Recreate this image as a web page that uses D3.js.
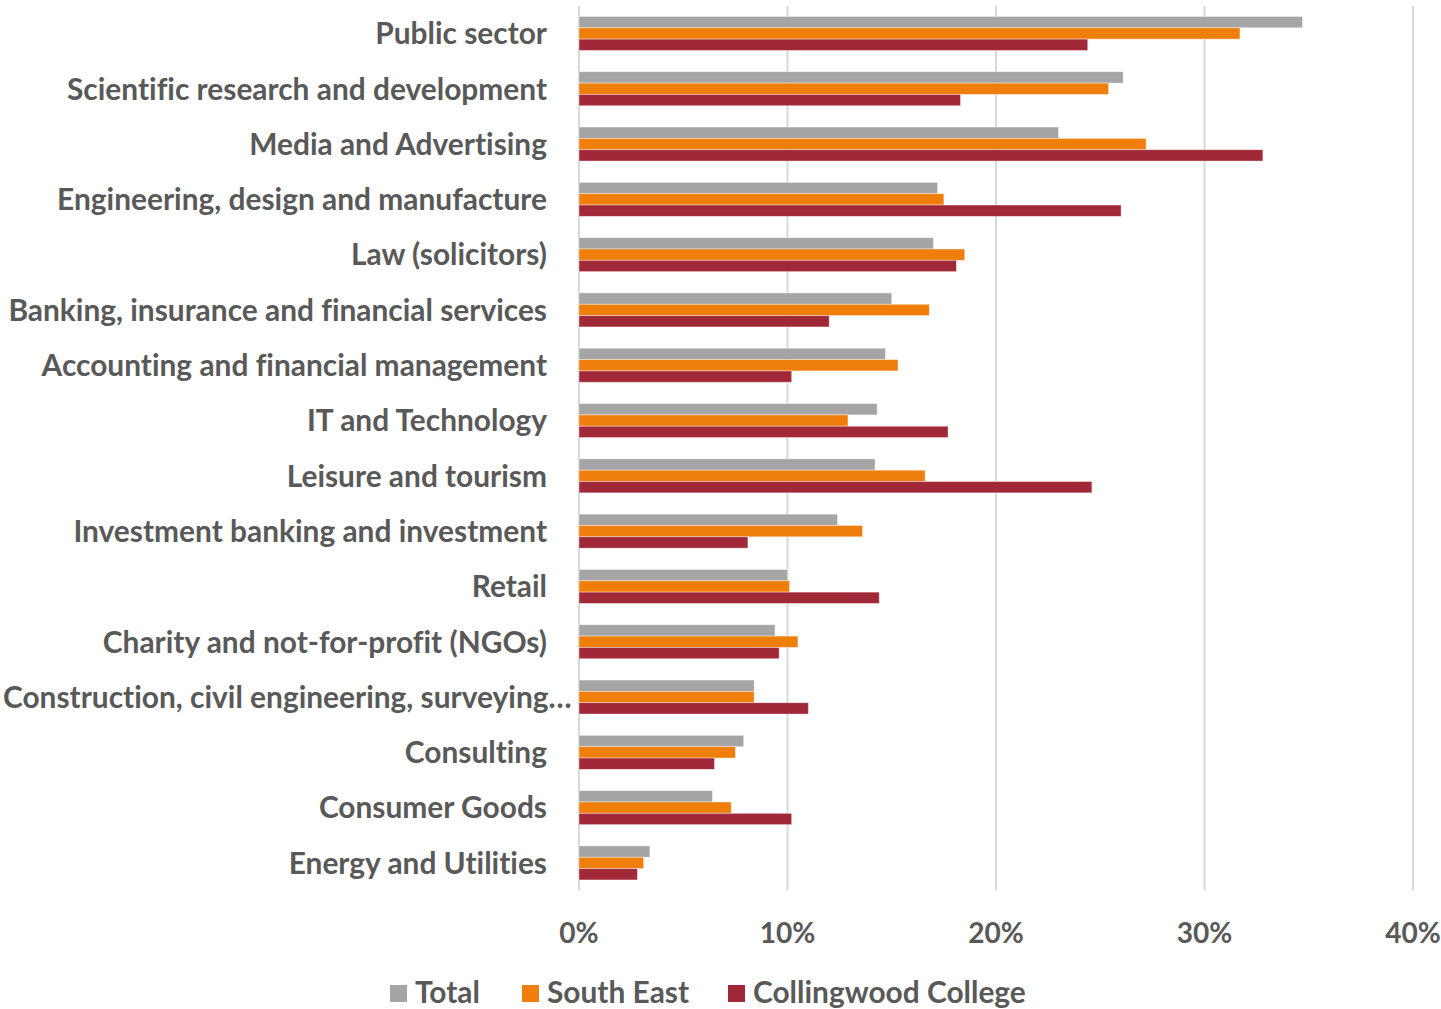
<!DOCTYPE html>
<html>
<head>
<meta charset="utf-8">
<script src="https://cdn.jsdelivr.net/npm/d3@7"></script>
<style>
  html, body { margin: 0; padding: 0; background: #fff; }
  svg { display: block; }
  text { font-family: Lato, "Open Sans", sans-serif; font-weight: 700; fill: #595959; font-variant-ligatures: none; }
</style>
</head>
<body>
<svg id="chart" width="1441" height="1009"></svg>
<script>
// Sectors, top to bottom
const categories = [
  "Public sector",
  "Scientific research and development",
  "Media and Advertising",
  "Engineering, design and manufacture",
  "Law (solicitors)",
  "Banking, insurance and financial services",
  "Accounting and financial management",
  "IT and Technology",
  "Leisure and tourism",
  "Investment banking and investment",
  "Retail",
  "Charity and not-for-profit (NGOs)",
  "Construction, civil engineering, surveying…",
  "Consulting",
  "Consumer Goods",
  "Energy and Utilities"
];

const seriesNames = ["Total", "South East", "Collingwood College"];

// Share of respondents (%) per sector
const totalValues       = [34.7, 26.1, 23.0, 17.2, 17.0, 15.0, 14.7, 14.3, 14.2, 12.4, 10.0, 9.4, 8.4, 7.9, 6.4, 3.4];
const southEastValues   = [31.7, 25.4, 27.2, 17.5, 18.5, 16.8, 15.3, 12.9, 16.6, 13.6, 10.1, 10.5, 8.4, 7.5, 7.3, 3.1];
const collingwoodValues = [24.4, 18.3, 32.8, 26.0, 18.1, 12.0, 10.2, 17.7, 24.6, 8.1, 14.4, 9.6, 11.0, 6.5, 10.2, 2.8];

const xTicks = [0, 10, 20, 30, 40];
const tickLabels = ["0%", "10%", "20%", "30%", "40%"];

const colors = ["#A5A5A5", "#EF7F0A", "#A02837"];

const series = [totalValues, southEastValues, collingwoodValues];

const svg = d3.select("#chart");

const x = d3.scaleLinear().domain([0, 40]).range([579, 1413]);

const y = d3.scaleBand()
  .domain(categories)
  .range([5.8, 890.6])
  .paddingInner(0.385)
  .paddingOuter(0.1925);

const sub = d3.scaleBand()
  .domain(d3.range(series.length))
  .range([0, y.bandwidth()]);

// Label font size: fit the sector names to the left margin
const probe = svg.append("text").attr("font-size", 100)
  .text("Banking, insurance and financial services");
const probeW = probe.node().getComputedTextLength();
probe.remove();
const labelSize = 100 * 539 / probeW;

// Gridlines
svg.append("g")
  .selectAll("line")
  .data(xTicks)
  .join("line")
  .attr("x1", d => x(d)).attr("x2", d => x(d))
  .attr("y1", 5.8).attr("y2", 890.6)
  .attr("stroke", "#D9D9D9")
  .attr("stroke-width", 2);

// Bars
const groups = svg.append("g")
  .selectAll("g")
  .data(categories)
  .join("g")
  .attr("transform", d => `translate(0,${y(d)})`);

groups.selectAll("rect")
  .data((d, i) => series.map((s, k) => ({ k, v: s[i] })))
  .join("rect")
  .attr("x", x(0))
  .attr("y", d => sub(d.k))
  .attr("width", d => x(d.v) - x(0))
  .attr("height", sub.bandwidth())
  .attr("fill", d => colors[d.k])
  .attr("stroke", "rgba(255,255,255,0.5)")
  .attr("stroke-width", 0.8);

// Category labels
const labelRight = 547;
svg.append("g")
  .selectAll("text")
  .data(categories)
  .join("text")
  .attr("font-size", labelSize)
  .attr("x", labelRight)
  .attr("y", d => y(d) + y.bandwidth() / 2)
  .attr("dy", "0.36em")
  .attr("text-anchor", "end")
  .text(d => d)
  .each(function () {
    const w = this.getComputedTextLength();
    if (w > labelRight - 3) {
      d3.select(this).attr("text-anchor", "start").attr("x", 3);
    }
  });

// X axis tick labels
svg.append("g")
  .selectAll("text")
  .data(xTicks)
  .join("text")
  .attr("font-size", labelSize * 0.94)
  .attr("x", d => x(d))
  .attr("y", 933)
  .attr("dy", "0.36em")
  .attr("text-anchor", "middle")
  .text((d, i) => tickLabels[i]);

// Legend
const legendX = [390, 522, 728];
const legend = svg.append("g")
  .selectAll("g")
  .data(seriesNames)
  .join("g")
  .attr("transform", (d, i) => `translate(${legendX[i]},0)`);

legend.append("rect")
  .attr("x", 0).attr("y", 985)
  .attr("width", 17).attr("height", 17)
  .attr("fill", (d, i) => colors[i]);

legend.append("text")
  .attr("font-size", labelSize)
  .attr("x", 25)
  .attr("y", 992)
  .attr("dy", "0.36em")
  .text(d => d);
</script>
</body>
</html>
